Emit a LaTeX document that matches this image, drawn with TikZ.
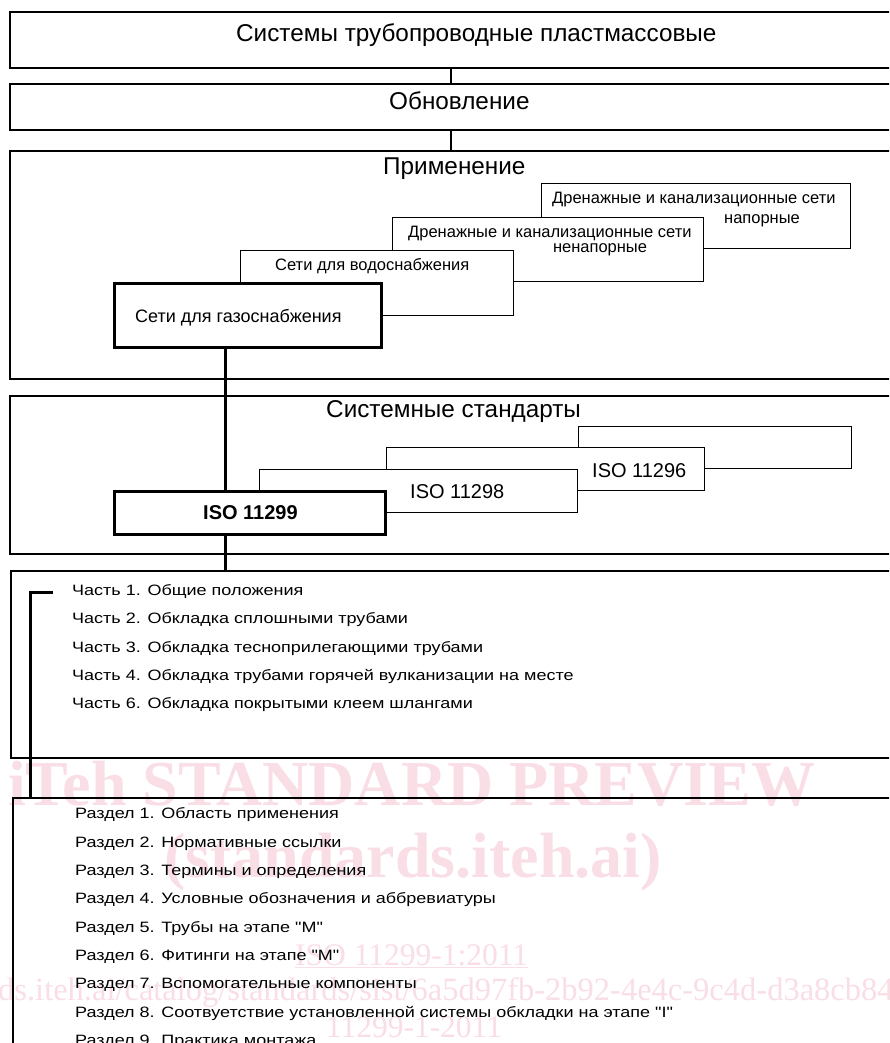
\documentclass[tikz,border=0pt]{standalone}
\usepackage{fontspec}
\setmainfont{Liberation Sans}
\newfontfamily\wmfont{Liberation Serif}
\newfontfamily\narrowfont{Liberation Sans}[FakeStretch=1.2]
\definecolor{wm}{RGB}{250,222,230}
\tikzset{
  outerbox/.style={draw, line width=2.2pt, inner sep=0pt, anchor=north west},
  innerbox/.style={draw, fill=white, line width=1.2pt, inner sep=0pt, anchor=north west},
  frontbox/.style={draw, fill=white, line width=3pt, inner sep=0pt, anchor=north west},
  lbl/.style={anchor=base west, inner sep=0pt},
  clbl/.style={anchor=base, inner sep=0pt},
  title/.style={lbl, font=\fontsize{24.3}{28}\selectfont},
  midtxt/.style={font=\fontsize{16.5}{20}\selectfont},
  listtxt/.style={lbl, font=\narrowfont\fontsize{15}{18}\selectfont},
  isotxt/.style={lbl, font=\fontsize{20}{24}\selectfont},
  thinlink/.style={line width=1.2pt},
  thicklink/.style={line width=3pt},
  wmtxt/.style={text=wm, inner sep=0pt},
}
\begin{document}
\begin{tikzpicture}[x=1pt,y=-1pt]
\useasboundingbox (0,0) rectangle (889,1043);
\clip (0,0) rectangle (889,1043);
\fill[white] (0,0) rectangle (889,1043);
% watermark
\node[wmtxt, anchor=base west, font=\wmfont\bfseries\fontsize{64}{64}\selectfont] (wm1) at (8,805) {iTeh STANDARD PREVIEW};
\node[wmtxt, anchor=base west, font=\wmfont\bfseries\fontsize{64}{64}\selectfont] (wm2) at (164,877) {(standards.iteh.ai)};
\node[wmtxt, anchor=base west, font=\wmfont\fontsize{31.5}{32}\selectfont] (wm3) at (295,965) {\underline{ISO 11299-1:2011}};
\node[wmtxt, anchor=base west, font=\wmfont\fontsize{32.5}{33}\selectfont] (wm4) at (-2,1000) {ds.iteh.ai/catalog/standards/sist/6a5d97fb-2b92-4e4c-9c4d-d3a8cb84};
\node[wmtxt, anchor=base, font=\wmfont\fontsize{31.5}{32}\selectfont] (wm5) at (414,1037) {11299-1-2011};
% outer boxes
\node[outerbox, minimum width=886pt, minimum height=56pt] (top) at (9,11) {};
\node[outerbox, minimum width=886pt, minimum height=46pt] (obn) at (9,83) {};
\node[outerbox, minimum width=886pt, minimum height=228pt] (prim) at (9,150) {};
\node[outerbox, minimum width=886pt, minimum height=158pt] (std) at (9,395) {};
\node[outerbox, minimum width=885pt, minimum height=187pt] (parts) at (10,570) {};
\node[outerbox, minimum width=883pt, minimum height=263pt] (razd) at (12,797) {};
% titles
\node[title] (t1) at (236,42) {Системы трубопроводные пластмассовые};
\node[title] (t2) at (389,110) {Обновление};
\node[title] (t3) at (383,175) {Применение};
\node[title] (t4) at (326,417) {Системные стандарты};
% application boxes
\node[innerbox, minimum width=309pt, minimum height=65pt] (dr2) at (541,183) {};
\node[lbl, midtxt] (dr2a) at (552,203) {Дренажные и канализационные сети};
\node[clbl, midtxt] (dr2b) at (762,223) {напорные};
\node[innerbox, minimum width=311pt, minimum height=64pt] (dr1) at (392,217) {};
\node[lbl, midtxt] (dr1a) at (408,237) {Дренажные и канализационные сети};
\node[clbl, midtxt] (dr1b) at (600,252) {ненапорные};
\node[innerbox, minimum width=273pt, minimum height=65pt] (water) at (240,250) {};
\node[lbl, midtxt] (watert) at (275,270) {Сети для водоснабжения};
\node[frontbox, minimum width=267pt, minimum height=64pt] (gas) at (113,282) {};
\node[lbl, font=\fontsize{18}{22}\selectfont] (gast) at (135,322) {Сети для газоснабжения};
% standards boxes
\node[innerbox, minimum width=273pt, minimum height=42pt] (back) at (578,426) {};
\node[innerbox, minimum width=318pt, minimum height=43pt] (iso96) at (386,447) {};
\node[isotxt] (iso96t) at (592,477) {ISO 11296};
\node[innerbox, minimum width=318pt, minimum height=43pt] (iso98) at (259,469) {};
\node[isotxt] (iso98t) at (410,498) {ISO 11298};
\node[frontbox, minimum width=271pt, minimum height=43pt] (iso99) at (113,490) {};
\node[isotxt, font=\bfseries\fontsize{20}{24}\selectfont] (iso99t) at (203,519) {ISO 11299};
% parts list
\node[listtxt] (p1) at (72,595) {Часть 1. Общие положения};
\node[listtxt] (p2) at (72,623) {Часть 2. Обкладка сплошными трубами};
\node[listtxt] (p3) at (72,652) {Часть 3. Обкладка тесноприлегающими трубами};
\node[listtxt] (p4) at (72,680) {Часть 4. Обкладка трубами горячей вулканизации на месте};
\node[listtxt] (p6) at (72,708) {Часть 6. Обкладка покрытыми клеем шлангами};
% sections list
\node[listtxt] (r1) at (75,818) {Раздел 1. Область применения};
\node[listtxt] (r2) at (75,847) {Раздел 2. Нормативные ссылки};
\node[listtxt] (r3) at (75,875) {Раздел 3. Термины и определения};
\node[listtxt] (r4) at (75,903) {Раздел 4. Условные обозначения и аббревиатуры};
\node[listtxt] (r5) at (75,932) {Раздел 5. Трубы на этапе "М"};
\node[listtxt] (r6) at (75,960) {Раздел 6. Фитинги на этапе "М"};
\node[listtxt] (r7) at (75,988) {Раздел 7. Вспомогательные компоненты};
\node[listtxt] (r8) at (75,1017) {Раздел 8. Соотвуетствие установленной системы обкладки на этапе "I"};
\node[listtxt] (r9) at (75,1045) {Раздел 9. Практика монтажа};
% connectors
\coordinate (tx) at (451,0);
\coordinate (cx) at (225,0);
\coordinate (bx) at (30,0);
\coordinate (brk) at (53,592);
\draw[thinlink] (top.south -| tx) -- (obn.north -| tx);
\draw[thinlink] (obn.south -| tx) -- (prim.north -| tx);
\draw[thicklink] (gas.south -| cx) -- (iso99.north -| cx);
\draw[thicklink] (iso99.south -| cx) -- (parts.north -| cx);
\draw[thicklink] (brk) -| (razd.north -| bx);
\end{tikzpicture}
\end{document}
